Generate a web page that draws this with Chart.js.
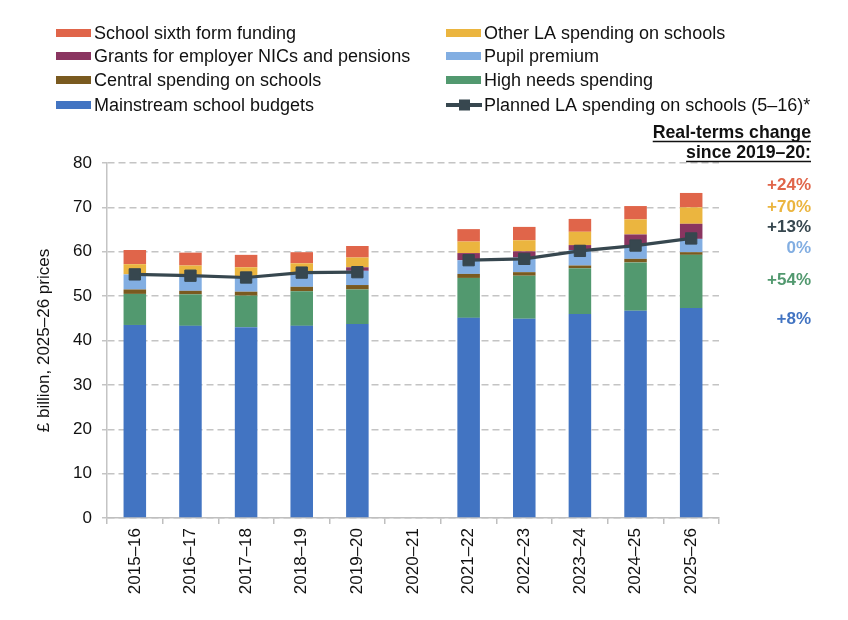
<!DOCTYPE html>
<html>
<head>
<meta charset="utf-8">
<script src="https://cdn.jsdelivr.net/npm/chart.js@4.4.1/dist/chart.umd.min.js"></script>
<style>
  body { margin: 0; background: #fff; }
  #wrap { width: 848px; height: 620px; }
</style>
</head>
<body>
<div id="wrap"><canvas id="schoolSpending"></canvas></div>
<script>
const years = ["2015–16", "2016–17", "2017–18", "2018–19", "2019–20", "2020–21",
  "2021–22", "2022–23", "2023–24", "2024–25", "2025–26"];

// £ billion, 2025–26 prices
const mainstream = [43.5, 43.3, 43.0, 43.3, 43.7, null, 45.1, 44.9, 46.0, 46.7, 47.3];
const highNeeds = [7.0, 7.1, 7.1, 7.8, 7.8, null, 9.0, 9.7, 10.3, 10.9, 12.0];
const central = [1.0, 0.8, 0.9, 1.0, 1.0, null, 0.9, 0.8, 0.6, 0.8, 0.6];
const pupilPremium = [3.4, 3.4, 3.3, 3.3, 3.2, null, 3.1, 3.3, 3.5, 3.1, 3.0];
const grantsNics = [0, 0, 0, 0, 0.8, null, 1.6, 1.4, 1.1, 2.4, 3.4];
const otherLA = [2.3, 2.3, 2.2, 2.0, 2.2, null, 2.6, 2.5, 3.0, 3.4, 3.7];
const sixthForm = [3.2, 2.9, 2.8, 2.5, 2.6, null, 2.8, 3.0, 2.9, 3.0, 3.25];
const plannedLA = [54.9, 54.6, 54.2, 55.3, 55.4, null, 58.1, 58.4, 60.2, 61.4, 63.0];

const changeLabels = ["+24%", "+70%", "+13%", "0%", "+54%", "+8%"];
const changeColors = ["#e0654a", "#ebb53f", "#37474f", "#82aee2", "#52996f", "#4274c2"];
const changeAt = [75.3, 70.2, 65.7, 61.0, 53.8, 45.0]; // y positions on the value axis

const FONT = "'Liberation Sans', Arial, sans-serif";

function bar(label, data, color) {
  return {
    type: "bar",
    label: label,
    data: data,
    backgroundColor: color,
    borderWidth: 0,
    barPercentage: 0.81,
    categoryPercentage: 0.5,
    stack: "s",
    order: 1,
  };
}

const datasets = [
  bar("Mainstream school budgets", mainstream, "#4274c2"),
  bar("High needs spending", highNeeds, "#52996f"),
  bar("Central spending on schools", central, "#7a5a1f"),
  bar("Pupil premium", pupilPremium, "#82aee2"),
  bar("Grants for employer NICs and pensions", grantsNics, "#8a3560"),
  bar("Other LA spending on schools", otherLA, "#ebb53f"),
  bar("School sixth form funding", sixthForm, "#e0654a"),
  {
    type: "line",
    label: "Planned LA spending on schools (5–16)*",
    data: plannedLA,
    borderColor: "#37474f",
    backgroundColor: "#37474f",
    borderWidth: 3.2,
    pointStyle: "rect",
    pointRadius: 8,
    pointBorderWidth: 1,
    spanGaps: false,
    order: 0,
  },
];

// legend in two columns, top to bottom
const legendCols = [
  [6, 4, 2, 0],
  [5, 3, 1, 7],
];

const extras = {
  id: "extras",
  afterDraw(chart) {
    const ctx = chart.ctx;
    const sets = chart.data.datasets;
    ctx.save();
    ctx.font = "18px " + FONT;
    ctx.textBaseline = "middle";
    ctx.textAlign = "left";
    const colX = [56, 446];
    const rowY = [33, 56, 80, 105];
    legendCols.forEach((col, c) => {
      col.forEach((idx, r) => {
        const ds = sets[idx];
        const x = colX[c];
        const y = rowY[r];
        if (ds.type === "line") {
          ctx.strokeStyle = ds.borderColor;
          ctx.lineWidth = 4;
          ctx.beginPath();
          ctx.moveTo(x, y);
          ctx.lineTo(x + 36, y);
          ctx.stroke();
          ctx.fillStyle = ds.borderColor;
          ctx.fillRect(x + 13, y - 5.5, 11, 11);
        } else {
          ctx.fillStyle = ds.backgroundColor;
          ctx.fillRect(x, y - 4, 35, 8);
        }
        ctx.fillStyle = "#111";
        ctx.fillText(ds.label, x + 38, y + 1);
      });
    });

    // real-terms change column
    const rx = 811;
    ctx.textAlign = "right";
    ctx.textBaseline = "alphabetic";
    ctx.font = "bold 17.7px " + FONT;
    ctx.fillStyle = "#111";
    ctx.strokeStyle = "#111";
    ctx.lineWidth = 1.5;
    [["Real-terms change", 138], ["since 2019–20:", 158]].forEach(([t, y]) => {
      ctx.fillText(t, rx, y);
      const w = ctx.measureText(t).width;
      ctx.beginPath();
      ctx.moveTo(rx - w, y + 3.5);
      ctx.lineTo(rx, y + 3.5);
      ctx.stroke();
    });
    const yScale = chart.scales.y;
    ctx.font = "bold 17px " + FONT;
    ctx.textBaseline = "middle";
    changeLabels.forEach((t, i) => {
      ctx.fillStyle = changeColors[i];
      ctx.fillText(t, rx, yScale.getPixelForValue(changeAt[i]) + 1);
    });
    ctx.restore();
  },
};

new Chart(document.getElementById("schoolSpending"), {
  data: { labels: years, datasets: datasets },
  options: {
    responsive: true,
    maintainAspectRatio: false,
    animation: false,
    layout: { padding: { top: 163, left: 25, right: 129, bottom: 0 } },
    plugins: {
      legend: { display: false },
      tooltip: { enabled: false },
    },
    scales: {
      x: {
        stacked: true,
        offset: true,
        grid: {
          offset: true,
          drawOnChartArea: false,
          drawTicks: true,
          tickLength: 6,
          color: "#bfbfbf",
          lineWidth: 1.5,
        },
        border: { color: "#bfbfbf", width: 1.5 },
        ticks: {
          color: "#111",
          font: { size: 17, family: FONT },
          minRotation: 90,
          maxRotation: 90,
          padding: 4,
          autoSkip: false,
        },
        afterFit(scale) {
          scale.height = 102;
        },
      },
      y: {
        stacked: true,
        min: 0,
        max: 80,
        grid: {
          color: "#c4c4c4",
          lineWidth: 1.5,
          tickLength: 5,
          tickBorderDash: [],
        },
        border: { color: "#c4c4c4", width: 1.5, dash: [7, 4] },
        ticks: {
          stepSize: 10,
          color: "#111",
          font: { size: 17, family: FONT },
          padding: 10,
        },
        title: {
          display: true,
          text: "£ billion, 2025–26 prices",
          color: "#111",
          font: { size: 17, family: FONT },
          padding: { top: 9, bottom: 0 },
        },
        afterFit(scale) {
          scale.width = 82;
        },
      },
    },
  },
  plugins: [extras],
});
</script>
</body>
</html>
